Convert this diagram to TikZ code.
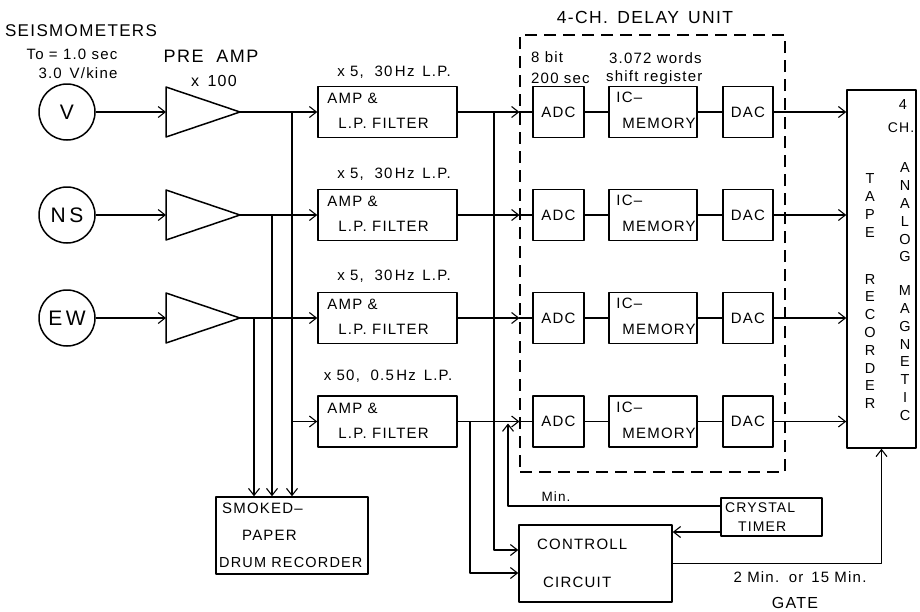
\documentclass[tikz,border=0pt]{standalone}
\usepackage{fontspec}
\setmainfont{Liberation Sans}[LetterSpace=8]
\usetikzlibrary{arrows.meta,calc}
\begin{document}
\begin{tikzpicture}[x=1pt,y=-1pt,line join=round,
  >={Straight Barb[length=7pt,width=11pt]},
  wire/.style={line width=1.1pt},
  box/.style={draw,line width=1.5pt,rectangle,inner sep=0},
  seis/.style={draw,line width=1.5pt,circle,minimum size=56pt,inner sep=0,font=\fontsize{21}{24}\selectfont},
  btxt/.style={font=\fontsize{15}{17}\selectfont,inner sep=0,anchor=west},
  lbl/.style={font=\fontsize{15}{17}\selectfont,inner sep=0},
  big/.style={font=\fontsize{17}{19}\selectfont,inner sep=0},
  vcol/.style={font=\fontsize{14.5}{17.8}\selectfont,inner sep=0,align=center}]
\useasboundingbox (0,0) rectangle (920,611);

% titles
\node[big] (tseis) at (81,31) {SEISMOMETERS};
\node[lbl] (tto) at (72,54) {To = 1.0 sec};
\node[lbl] (tvk) at (78,73) {3.0 \,V/kine};
\node[big,font=\fontsize{18}{20}\selectfont] (tpre) at (211,56) {PRE \ AMP};
\node[lbl,font=\fontsize{16}{18}\selectfont] (tx100) at (214,81) {x \,100};
\node[big,font=\fontsize{17.5}{20}\selectfont] (tdelay) at (645,17) {4-CH. \,DELAY \,UNIT};

% seismometers
\node[seis] (cV) at (67,112) {V};
\node[seis] (cN) at (67,215) {N\,S};
\node[seis] (cE) at (67,318) {E\,W};

% pre amps (triangles)
\foreach \n/\yy in {V/112,N/215,E/318}{
  \coordinate (tl\n) at (166,\yy);
  \coordinate (tt\n) at (240,\yy);
  \draw[line width=1.5pt] (166,\yy-25) -- (tt\n) -- (166,\yy+25) -- cycle;
  \draw[wire,->] (c\n.east) -- (tl\n);
}

% amp & filter boxes
\foreach \i/\yy in {1/112,2/215,3/318,4/421.5}{
  \node[box,minimum width=139pt,minimum height=51pt] (amp\i) at (387.5,\yy) {};
  \node[btxt] (ampa\i) at ($(amp\i.north west)+(10,13)$) {AMP \&};
  \node[btxt] (ampb\i) at ($(amp\i.north west)+(21,38)$) {L.P. FILTER};
  \node[box,minimum width=51pt,minimum height=51pt,font=\fontsize{15}{17}\selectfont] (adc\i) at (558.5,\yy) {ADC};
  \node[box,minimum width=88pt,minimum height=51pt] (ic\i) at (653,\yy) {};
  \node[btxt] (ica\i) at ($(ic\i.north west)+(8,12)$) {IC–};
  \node[btxt] (icb\i) at ($(ic\i.north west)+(14,38)$) {MEMORY};
  \node[box,minimum width=50pt,minimum height=51pt,font=\fontsize{15}{17}\selectfont] (dac\i) at (748,\yy) {DAC};
}
\node[lbl] (l1) at (394,72) {x 5, \ 30\,Hz \,L.P.};
\node[lbl] (l2) at (394,174) {x 5, \ 30\,Hz \,L.P.};
\node[lbl] (l3) at (394,276) {x 5, \ 30\,Hz \,L.P.};
\node[lbl] (l4) at (388,376) {x 50, \ 0.5\,Hz \,L.P.};

% delay unit
\node[draw,line width=1.1pt,dash pattern=on 12pt off 7pt,rectangle,minimum width=265pt,minimum height=437pt] (dbox) at (652.5,253.5) {};
\node[lbl,anchor=west] (t8bit) at (531,57) {8 bit};
\node[lbl,anchor=west] (t200) at (531,78) {200 sec};
\node[lbl,anchor=west] (t3072) at (609,58) {3.072 words};
\node[lbl,anchor=west] (tshift) at (606,78) {shift register};

% tape recorder
\node[box,minimum width=69pt,minimum height=358pt] (tape) at (881.5,269) {};
\node[vcol] (t4) at (903,105) {4};
\node[vcol,font=\fontsize{14}{17}\selectfont] (tch) at (901,128) {CH.};
\node[vcol] (wtape) at (870,205.5) {T\\A\\P\\E};
\node[vcol] (wrec) at (870,341.5) {R\\E\\C\\O\\R\\D\\E\\R};
\node[vcol] (wana) at (905,212.5) {A\\N\\A\\L\\O\\G};
\node[vcol] (wmag) at (905,353) {M\\A\\G\\N\\E\\T\\I\\C};

% smoked paper recorder
\node[box,minimum width=152pt,minimum height=77pt] (smk) at (292,535.5) {};
\node[btxt] (s1) at (222,508) {SMOKED–};
\node[btxt] (s2) at (242,535) {PAPER};
\node[btxt,font=\fontsize{14.5}{17}\selectfont] (s3) at (219,562) {DRUM RECORDER};

% control circuit, crystal timer
\node[box,minimum width=153pt,minimum height=77pt] (ctrl) at (595.5,563.5) {};
\node[btxt] (c1) at (537,544) {CONTROLL};
\node[btxt] (c2) at (543,582) {CIRCUIT};
\node[box,minimum width=101pt,minimum height=38pt] (xtal) at (771.5,517) {};
\node[btxt,font=\fontsize{14}{16}\selectfont] (x1) at (725,508) {CRYSTAL};
\node[btxt,font=\fontsize{14}{16}\selectfont] (x2t) at (738,527) {TIMER};
\node[lbl,font=\fontsize{13.5}{16}\selectfont] (tmin) at (556,497) {Min.};
\node[lbl] (tgate1) at (800,577) {2 Min. \,or \,15 Min.};
\node[lbl,font=\fontsize{16}{18}\selectfont] (tgate2) at (795,603) {GATE};

% preamp outputs
\foreach \n/\i in {V/1,N/2,E/3}{
  \draw[wire,->] (tt\n) -- (amp\i.west);
}
\coordinate (jV) at (292,112);
\coordinate (jN) at (272,215);
\coordinate (jE) at (254,318);
\draw[wire,->] (jV) -- (jV |- smk.north);
\draw[wire,->] (jN) -- (jN |- smk.north);
\draw[wire,->] (jE) -- (jE |- smk.north);
\draw[wire,->] (jV |- amp4.west) -- (amp4.west);

% amp outputs to ADCs
\foreach \i in {1,2,3,4}{
  \coordinate (d\i) at (amp\i.east -| dbox.west);
  \draw[wire,->] (amp\i.east) -- (d\i);
  \draw[wire] (d\i) -- (adc\i.west);
  \draw[wire] (adc\i.east) -- (ic\i.west);
  \draw[wire] (ic\i.east) -- (dac\i.west);
  \draw[wire,->] (dac\i.east) -- (dac\i.east -| tape.west);
}

% to control circuit
\coordinate (k1) at (494,112);
\coordinate (k4) at (470,421.5);
\coordinate (ci1) at ($(ctrl.west)+(0,-13.5)$);
\coordinate (ci2) at ($(ctrl.west)+(0,9.5)$);
\draw[wire,->] (k1) |- (ci1);
\draw[wire,->] (k4) |- (ci2);

% crystal timer
\coordinate (xo1) at ($(xtal.west)+(0,-11)$);
\coordinate (xo2) at ($(xtal.west)+(0,15)$);
\coordinate (mtip) at (508,423.5);
\draw[wire,->] (xo1) -| (mtip);
\draw[wire,->] (xo2) -- (xo2 -| ctrl.east);

% gate to tape recorder
\draw[wire,->] (ctrl.east) -| (tape.south);
\end{tikzpicture}
\end{document}
